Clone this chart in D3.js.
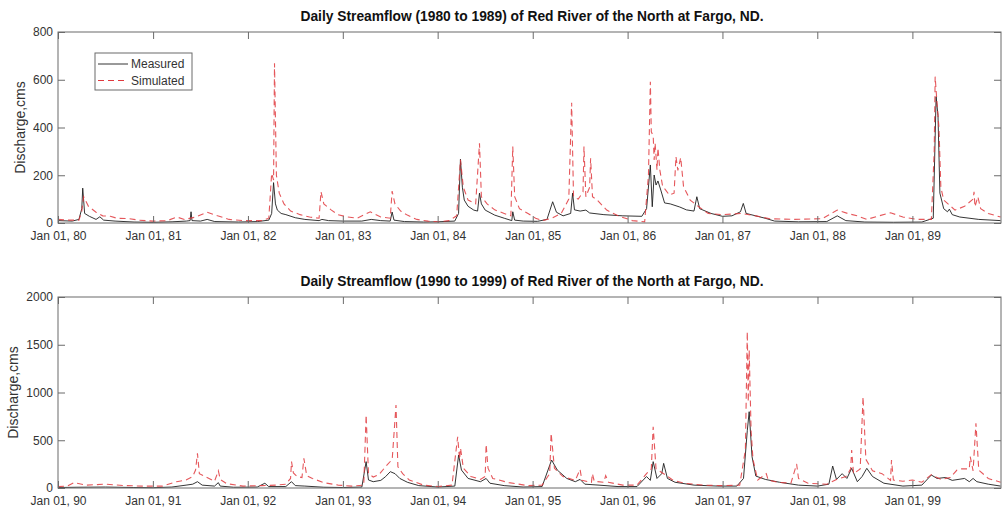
<!DOCTYPE html>
<html>
<head>
<meta charset="utf-8">
<script src="https://cdn.jsdelivr.net/npm/d3@7"></script>
<style>
  body { margin: 0; background: #fff; }
  svg { display: block; font-family: "Liberation Sans", Arial, sans-serif; }
</style>
</head>
<body>
<div id="chart"></div>
<script>
// data: [decimal year, discharge in cms]
const measured80 = [
  [1980.00, 10], [1980.15, 8], [1980.22, 15], [1980.25, 60], [1980.26, 146], [1980.28, 40], [1980.33, 28],
  [1980.40, 15], [1980.44, 26], [1980.48, 12], [1980.60, 8], [1980.80, 4], [1981.00, 3], [1981.20, 5],
  [1981.35, 8], [1981.39, 10], [1981.40, 47], [1981.41, 10], [1981.50, 8], [1981.57, 15], [1981.65, 6],
  [1981.90, 4], [1982.10, 6], [1982.22, 12], [1982.25, 40], [1982.27, 169], [1982.29, 80], [1982.31, 54],
  [1982.35, 40], [1982.40, 35], [1982.50, 22], [1982.60, 15], [1982.75, 10], [1982.78, 15], [1982.85, 10],
  [1983.00, 8], [1983.20, 8], [1983.30, 15], [1983.40, 10], [1983.50, 8], [1983.52, 46], [1983.54, 12],
  [1983.65, 6], [1983.85, 4], [1984.00, 5], [1984.18, 8], [1984.22, 40], [1984.24, 267], [1984.26, 150],
  [1984.28, 96], [1984.32, 70], [1984.38, 54], [1984.42, 50], [1984.44, 125], [1984.46, 80], [1984.50, 54],
  [1984.60, 33], [1984.70, 20], [1984.78, 10], [1984.79, 47], [1984.81, 12], [1984.90, 8], [1985.05, 7],
  [1985.15, 15], [1985.21, 89], [1985.25, 45], [1985.32, 30], [1985.40, 40], [1985.42, 125], [1985.44, 55],
  [1985.50, 50], [1985.56, 54], [1985.60, 42], [1985.75, 35], [1985.95, 30], [1986.15, 28], [1986.20, 60],
  [1986.24, 243], [1986.26, 68], [1986.28, 201], [1986.30, 159], [1986.32, 176], [1986.35, 138], [1986.39, 84],
  [1986.45, 80], [1986.55, 67], [1986.62, 55], [1986.70, 50], [1986.73, 110], [1986.76, 60], [1986.88, 40],
  [1987.00, 28], [1987.10, 30], [1987.19, 47], [1987.22, 82], [1987.25, 40], [1987.35, 30], [1987.45, 20],
  [1987.55, 8], [1987.80, 5], [1988.10, 6], [1988.21, 30], [1988.30, 10], [1988.50, 4], [1988.80, 3],
  [1989.10, 4], [1989.22, 20], [1989.25, 529], [1989.27, 450], [1989.29, 125], [1989.33, 60], [1989.37, 47],
  [1989.39, 58], [1989.42, 35], [1989.50, 25], [1989.70, 15], [1989.93, 10]
];
const simulated80 = [
  [1980.00, 15], [1980.10, 12], [1980.22, 12], [1980.25, 50], [1980.27, 110], [1980.32, 70], [1980.40, 45],
  [1980.47, 30], [1980.55, 28], [1980.62, 20], [1980.75, 18], [1980.85, 12], [1981.00, 8], [1981.15, 10],
  [1981.25, 25], [1981.33, 15], [1981.45, 25], [1981.57, 45], [1981.68, 30], [1981.80, 15], [1981.95, 10],
  [1982.15, 10], [1982.22, 20], [1982.25, 208], [1982.27, 180], [1982.28, 669], [1982.30, 200], [1982.33, 125],
  [1982.38, 80], [1982.45, 50], [1982.55, 35], [1982.65, 25], [1982.75, 20], [1982.77, 131], [1982.80, 80],
  [1982.88, 54], [1982.95, 35], [1983.05, 25], [1983.15, 20], [1983.29, 47], [1983.40, 25], [1983.50, 20],
  [1983.52, 134], [1983.55, 80], [1983.61, 50], [1983.68, 33], [1983.78, 15], [1983.90, 8], [1984.00, 5],
  [1984.12, 10], [1984.20, 30], [1984.24, 265], [1984.27, 150], [1984.32, 96], [1984.40, 80], [1984.44, 334],
  [1984.46, 110], [1984.52, 80], [1984.60, 55], [1984.70, 40], [1984.77, 30], [1984.79, 320], [1984.81, 110],
  [1984.86, 60], [1984.95, 40], [1985.03, 20], [1985.10, 10], [1985.20, 20], [1985.30, 40], [1985.38, 100],
  [1985.41, 504], [1985.43, 110], [1985.48, 100], [1985.53, 130], [1985.54, 320], [1985.56, 110], [1985.60, 150],
  [1985.61, 271], [1985.63, 110], [1985.68, 96], [1985.78, 54], [1985.90, 30], [1986.05, 10], [1986.18, 5],
  [1986.22, 200], [1986.24, 592], [1986.25, 382], [1986.27, 365], [1986.28, 264], [1986.29, 335], [1986.31, 222],
  [1986.32, 314], [1986.34, 222], [1986.37, 152], [1986.40, 139], [1986.44, 117], [1986.49, 125], [1986.51, 278],
  [1986.53, 220], [1986.56, 274], [1986.59, 152], [1986.66, 96], [1986.75, 68], [1986.85, 40], [1987.00, 35],
  [1987.20, 40], [1987.35, 30], [1987.50, 18], [1987.75, 15], [1988.05, 18], [1988.21, 54], [1988.32, 40],
  [1988.42, 30], [1988.52, 15], [1988.65, 30], [1988.77, 43], [1988.90, 25], [1989.05, 15], [1989.20, 15],
  [1989.23, 300], [1989.24, 613], [1989.26, 500], [1989.28, 400], [1989.30, 150], [1989.33, 96], [1989.45, 54],
  [1989.55, 70], [1989.64, 100], [1989.65, 131], [1989.66, 68], [1989.69, 110], [1989.72, 60], [1989.80, 40],
  [1989.93, 25]
];
const measured90 = [
  [1990.00, 5], [1990.20, 8], [1990.50, 10], [1990.80, 5], [1991.00, 3], [1991.20, 10], [1991.35, 30],
  [1991.42, 40], [1991.47, 66], [1991.52, 30], [1991.65, 20], [1991.69, 56], [1991.71, 20], [1991.85, 8],
  [1992.10, 10], [1992.18, 50], [1992.22, 15], [1992.40, 15], [1992.46, 66], [1992.50, 25], [1992.60, 20],
  [1992.80, 8], [1993.00, 5], [1993.20, 10], [1993.245, 276], [1993.27, 84], [1993.32, 66], [1993.40, 80],
  [1993.45, 119], [1993.50, 171], [1993.55, 150], [1993.60, 100], [1993.68, 60], [1993.80, 25], [1994.00, 10],
  [1994.18, 20], [1994.22, 345], [1994.25, 188], [1994.32, 100], [1994.45, 66], [1994.51, 100], [1994.55, 50],
  [1994.70, 25], [1994.90, 10], [1995.10, 15], [1995.20, 293], [1995.26, 188], [1995.36, 100], [1995.45, 66],
  [1995.50, 90], [1995.55, 40], [1995.70, 30], [1995.90, 15], [1996.10, 15], [1996.20, 120], [1996.24, 80],
  [1996.27, 276], [1996.31, 100], [1996.36, 150], [1996.38, 258], [1996.42, 100], [1996.50, 60], [1996.70, 30],
  [1996.95, 20], [1997.15, 20], [1997.22, 100], [1997.26, 600], [1997.28, 799], [1997.31, 328], [1997.35, 125],
  [1997.45, 90], [1997.60, 60], [1997.80, 30], [1998.00, 20], [1998.12, 40], [1998.16, 230], [1998.20, 90],
  [1998.26, 150], [1998.31, 100], [1998.36, 206], [1998.42, 66], [1998.47, 120], [1998.52, 206], [1998.58, 120],
  [1998.70, 50], [1998.90, 20], [1999.10, 30], [1999.20, 136], [1999.26, 100], [1999.35, 110], [1999.42, 80],
  [1999.55, 100], [1999.60, 66], [1999.64, 100], [1999.68, 66], [1999.80, 40], [1999.93, 20]
];
const simulated90 = [
  [1990.00, 14], [1990.10, 20], [1990.17, 56], [1990.30, 30], [1990.50, 40], [1990.70, 25], [1990.90, 20],
  [1991.10, 20], [1991.25, 66], [1991.35, 84], [1991.42, 120], [1991.45, 188], [1991.47, 363], [1991.49, 150],
  [1991.55, 120], [1991.65, 70], [1991.69, 181], [1991.71, 90], [1991.78, 45], [1991.95, 20], [1992.15, 25],
  [1992.30, 30], [1992.40, 40], [1992.45, 100], [1992.46, 276], [1992.48, 157], [1992.52, 120], [1992.57, 110],
  [1992.59, 311], [1992.62, 130], [1992.68, 100], [1992.80, 56], [1992.95, 30], [1993.10, 20], [1993.22, 30],
  [1993.245, 764], [1993.27, 150], [1993.32, 115], [1993.38, 140], [1993.45, 223], [1993.52, 300], [1993.56, 869],
  [1993.58, 223], [1993.63, 150], [1993.70, 84], [1993.85, 30], [1994.00, 15], [1994.15, 30], [1994.21, 537],
  [1994.23, 300], [1994.24, 419], [1994.27, 207], [1994.35, 120], [1994.45, 90], [1994.50, 120], [1994.51, 457],
  [1994.53, 207], [1994.58, 100], [1994.75, 56], [1994.95, 25], [1995.10, 30], [1995.18, 150], [1995.195, 572],
  [1995.23, 207], [1995.32, 120], [1995.45, 80], [1995.50, 195], [1995.52, 80], [1995.62, 60], [1995.63, 150],
  [1995.65, 70], [1995.75, 60], [1995.77, 130], [1995.80, 60], [1995.95, 30], [1996.10, 30], [1996.20, 150],
  [1996.25, 200], [1996.27, 642], [1996.30, 200], [1996.38, 150], [1996.48, 80], [1996.60, 50], [1996.80, 30],
  [1997.00, 25], [1997.18, 30], [1997.24, 400], [1997.26, 1637], [1997.27, 900], [1997.28, 1445], [1997.30, 600],
  [1997.32, 300], [1997.37, 84], [1997.46, 150], [1997.48, 84], [1997.58, 60], [1997.72, 50], [1997.78, 251],
  [1997.80, 100], [1997.90, 50], [1998.10, 40], [1998.20, 90], [1998.30, 120], [1998.35, 200], [1998.36, 398],
  [1998.38, 150], [1998.45, 200], [1998.48, 956], [1998.51, 300], [1998.58, 180], [1998.68, 150], [1998.77, 80],
  [1998.78, 293], [1998.80, 84], [1998.90, 70], [1999.00, 84], [1999.10, 60], [1999.20, 140], [1999.30, 90],
  [1999.40, 110], [1999.47, 188], [1999.52, 200], [1999.60, 200], [1999.61, 328], [1999.64, 180], [1999.67, 677],
  [1999.70, 188], [1999.80, 100], [1999.93, 60]
];

const yTicksTop = [0, 200, 400, 600, 800];
const yTicksBottom = [0, 500, 1000, 1500, 2000];
const legendLabels = ["Measured", "Simulated"];

// config
const W = 1002, H = 510;
const left = 58, right = 1001;
const panels = [
  { title: "Daily Streamflow (1980 to 1989) of Red River of the North at Fargo, ND.",
    start: 1980, top: 32, bottom: 223, yMax: 800, yTicks: yTicksTop, labelX: 25,
    measured: measured80, simulated: simulated80, legend: true },
  { title: "Daily Streamflow (1990 to 1999) of Red River of the North at Fargo, ND.",
    start: 1990, top: 297, bottom: 488, yMax: 2000, yTicks: yTicksBottom, labelX: 18,
    measured: measured90, simulated: simulated90, legend: false }
];

const axisColor = "#6b6b6b";
const textColor = "#333";
const measuredColor = "#1e1e1e";
const simColor = "#e0393e";

// decimal year -> Date
function toDate(y) {
  const Y = Math.floor(y);
  const a = new Date(Y, 0, 1), b = new Date(Y + 1, 0, 1);
  return new Date(+a + (y - Y) * (b - a));
}

const svg = d3.select("#chart").append("svg")
  .attr("width", W)
  .attr("height", H);

panels.forEach(drawPanel);

function drawPanel(p) {
  const x = d3.scaleTime()
    .domain([new Date(p.start, 0, 1), new Date(p.start + 9, 11, 8)])
    .range([left, right]);
  const y = d3.scaleLinear()
    .domain([0, p.yMax])
    .range([p.bottom, p.top]);

  const g = svg.append("g");
  const years = d3.range(p.start, p.start + 10).map(v => new Date(v, 0, 1));
  const fmt = d3.timeFormat("%b %d, %y");

  // lines
  const line = d3.line()
    .x(d => x(toDate(d[0])))
    .y(d => y(d[1]));

  g.append("path")
    .datum(p.measured)
    .attr("fill", "none")
    .attr("stroke", measuredColor)
    .attr("stroke-width", 0.9)
    .attr("d", line);

  g.append("path")
    .datum(p.simulated)
    .attr("fill", "none")
    .attr("stroke", simColor)
    .attr("stroke-opacity", 0.85)
    .attr("stroke-width", 1.1)
    .attr("stroke-dasharray", "6,4")
    .attr("d", line);

  // axes, ticks pointing inward like matlab
  const ax = [
    g.append("g").attr("transform", `translate(0,${p.bottom})`)
      .call(d3.axisBottom(x).tickValues(years).tickFormat(fmt).tickSizeInner(-7).tickSizeOuter(0).tickPadding(8)),
    g.append("g").attr("transform", `translate(0,${p.top})`)
      .call(d3.axisTop(x).tickValues(years).tickFormat("").tickSizeInner(-7).tickSizeOuter(0)),
    g.append("g").attr("transform", `translate(${left},0)`)
      .call(d3.axisLeft(y).tickValues(p.yTicks).tickFormat(d3.format("d")).tickSizeInner(-7).tickSizeOuter(0).tickPadding(5)),
    g.append("g").attr("transform", `translate(${right},0)`)
      .call(d3.axisRight(y).tickValues(p.yTicks).tickFormat("").tickSizeInner(-7).tickSizeOuter(0))
  ];
  ax.forEach(a => {
    a.select(".domain").remove();
    a.selectAll("line").attr("stroke", axisColor);
    a.selectAll("text").attr("fill", textColor).style("font-size", "12px");
  });

  // box
  g.append("rect")
    .attr("x", left)
    .attr("y", p.top)
    .attr("width", right - left)
    .attr("height", p.bottom - p.top)
    .attr("fill", "none")
    .attr("stroke", axisColor)
    .attr("stroke-width", 1);

  // title
  g.append("text")
    .attr("x", 532)
    .attr("y", p.top - 11)
    .attr("text-anchor", "middle")
    .attr("fill", "#111")
    .style("font-size", "13.8px")
    .style("font-weight", "bold")
    .text(p.title);

  // y label
  g.append("text")
    .attr("transform", `translate(${p.labelX},${(p.top + p.bottom) / 2}) rotate(-90)`)
    .attr("text-anchor", "middle")
    .attr("fill", textColor)
    .style("font-size", "14px")
    .text("Discharge,cms");

  if (p.legend) {
    const lg = g.append("g");
    lg.append("rect")
      .attr("x", 95).attr("y", 53)
      .attr("width", 97).attr("height", 37)
      .attr("fill", "#fff")
      .attr("stroke", axisColor);
    legendLabels.forEach((name, i) => {
      const ly = 64 + i * 16.5;
      lg.append("line")
        .attr("x1", 98).attr("x2", 128)
        .attr("y1", ly).attr("y2", ly)
        .attr("stroke", i === 0 ? measuredColor : simColor)
        .attr("stroke-width", i === 0 ? 0.9 : 1.1)
        .attr("stroke-dasharray", i === 0 ? null : "6,4");
      lg.append("text")
        .attr("x", 131)
        .attr("y", ly + 4)
        .attr("fill", textColor)
        .style("font-size", "12px")
        .text(name);
    });
  }
}
</script>
</body>
</html>
